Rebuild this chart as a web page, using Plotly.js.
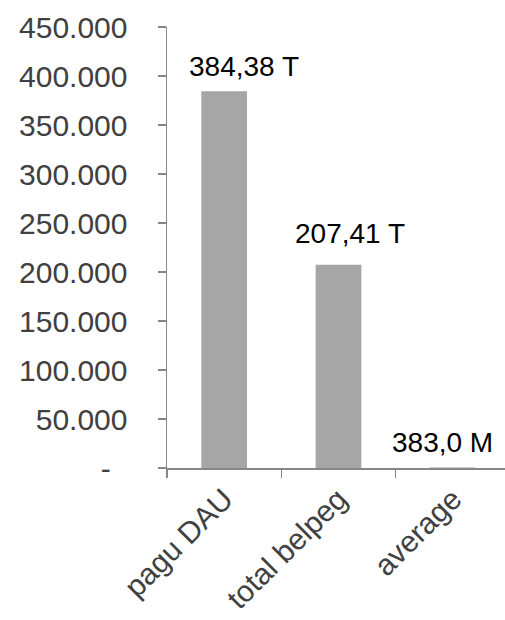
<!DOCTYPE html>
<html>
<head>
<meta charset="utf-8">
<script src="https://cdn.plot.ly/plotly-3.0.1.min.js"></script>
<style>html,body{margin:0;padding:0;overflow:hidden;background:#fff;}</style>
</head>
<body>
<div id="chart"></div>
<script>
var categories = ["pagu DAU", "total belpeg", "average"];
var values = [384380, 207410, 383];
var valueLabels = ["384,38 T", "207,41 T", "383,0 M"];
var yTickVals = [0, 50000, 100000, 150000, 200000, 250000, 300000, 350000, 400000, 450000];
var yTickText = ["-\u00a0\u00a0", "50.000", "100.000", "150.000", "200.000", "250.000", "300.000", "350.000", "400.000", "450.000"];

var labelShift = [[20, 25], [11, 31], [-10, 25]];

var annotations = categories.map(function (c, i) {
  return {
    x: c, y: values[i], xref: "x", yref: "y",
    text: valueLabels[i], showarrow: false,
    xanchor: "center", yanchor: "middle",
    xshift: labelShift[i][0], yshift: labelShift[i][1],
    font: {family: "Liberation Sans, Arial, sans-serif", size: 28, color: "#000000"}
  };
});

var trace = {
  type: "bar",
  x: categories,
  y: values,
  marker: {color: "#a6a6a6"},
  hoverinfo: "skip"
};

var layout = {
  width: 512, height: 620,
  margin: {l: 167, r: 1.5, t: 26.7, b: 151.7},
  paper_bgcolor: "#ffffff", plot_bgcolor: "#ffffff",
  showlegend: false,
  bargap: 0.6,
  font: {family: "Liberation Sans, Arial, sans-serif", color: "#404040"},
  xaxis: {
    type: "category",
    showline: true, linecolor: "#868686", linewidth: 1.5,
    ticks: "outside", tickson: "boundaries", ticklen: 8, tickcolor: "#868686", tickwidth: 1.5,
    tickangle: -45,
    tickfont: {size: 30, color: "#404040"},
    showgrid: false, zeroline: false
  },
  yaxis: {
    range: [0, 450000],
    tickvals: yTickVals, ticktext: yTickText,
    showline: true, linecolor: "#868686", linewidth: 1.5,
    ticks: "outside", ticklen: 8, tickcolor: "#868686", tickwidth: 1.5,
    ticklabelstandoff: 24,
    tickfont: {size: 30, color: "#404040"},
    showgrid: false, zeroline: false
  },
  annotations: annotations
};

Plotly.newPlot("chart", [trace], layout, {displayModeBar: false, staticPlot: true});
</script>
</body>
</html>
